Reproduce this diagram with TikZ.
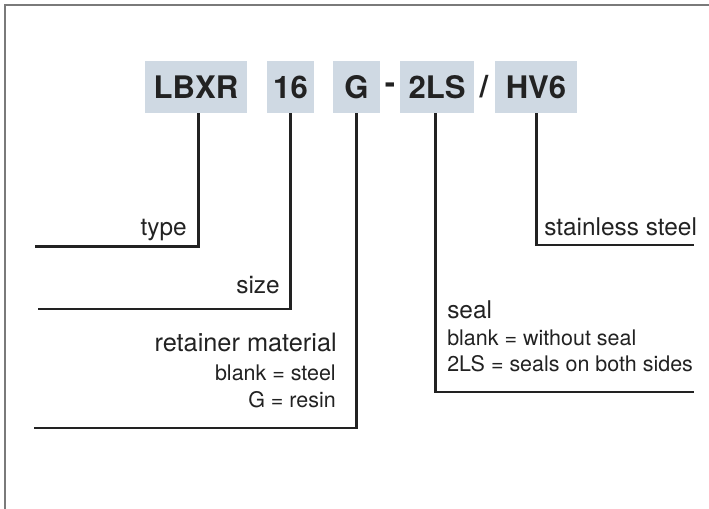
\documentclass[tikz,border=0pt]{standalone}
\usepackage{fontspec}
\setmainfont{TeX Gyre Heros}
\definecolor{boxfill}{HTML}{CFD9E3}
\definecolor{ink}{HTML}{222222}
\definecolor{framegray}{HTML}{7A7A7A}
\begin{document}
\begin{tikzpicture}[x=0.75pt,y=-0.75pt,
  code/.style={fill=boxfill,inner sep=0pt,minimum height=52*0.75pt,text=ink,font=\fontsize{23.3}{28}\selectfont\bfseries},
  sep/.style={inner sep=0pt,text=ink,font=\fontsize{23.3}{28}\selectfont\bfseries},
  lead/.style={draw=ink,line width=2.2pt},
  lbl/.style={inner sep=0pt,text=ink,font=\fontsize{18.3}{22}\selectfont},
  sub/.style={inner sep=0pt,text=ink,font=\fontsize{16.1}{19}\selectfont},
  frame/.style={draw=framegray,line width=1.3pt}]
\useasboundingbox (0,0) rectangle (709,508);
\draw[frame] (5,510) -- (5,5) -- (711,5);
% code boxes
\node[code,minimum width=102*0.75pt] (lbxr) at (196,87) {LBXR};
\node[code,minimum width=47*0.75pt] (size) at (290.5,87) {16};
\node[code,minimum width=47*0.75pt] (ret) at (356.5,87) {G};
\node[sep] (dash) at (390,88) {-};
\node[code,minimum width=74*0.75pt] (seal) at (437,87) {2LS};
\node[sep] (slash) at (484,87) {/};
\node[code,minimum width=82*0.75pt] (hv) at (536,87) {HV6};
% end points
\coordinate (typeend) at (35,246.7);
\coordinate (sizeend) at (38,309);
\coordinate (retend) at (34,428);
\coordinate (hvend) at (694,245);
\coordinate (sealend) at (694,392);
% leaders
\draw[lead] ([xshift=2.2pt]lbxr.south) |- (typeend);
\draw[lead] (size.south) |- (sizeend);
\draw[lead] (ret.south) |- (retend);
\draw[lead] ([xshift=-1pt]seal.south) |- (sealend);
\draw[lead] ([xshift=0.5pt]hv.south) |- (hvend);
% labels
\node[lbl,anchor=base east] (tlbl) at (187,235) {type};
\node[lbl,anchor=base east] (slbl) at (280,293) {size};
\node[lbl,anchor=base east,font=\fontsize{19}{23}\selectfont] (rlbl) at (337,351.7) {retainer material};
\node[sub,anchor=base east] (rl1) at (336,380) {blank = steel};
\node[sub,anchor=base east] (rl2) at (336,407) {G = resin};
\node[lbl,anchor=base west] (hlbl) at (544,235) {stainless steel};
\node[lbl,anchor=base west] (selbl) at (447,318) {seal};
\node[sub,anchor=base west] (se1) at (447,345) {blank = without seal};
\node[sub,anchor=base west] (se2) at (447,371.7) {2LS = seals on both sides};
\end{tikzpicture}
\end{document}
